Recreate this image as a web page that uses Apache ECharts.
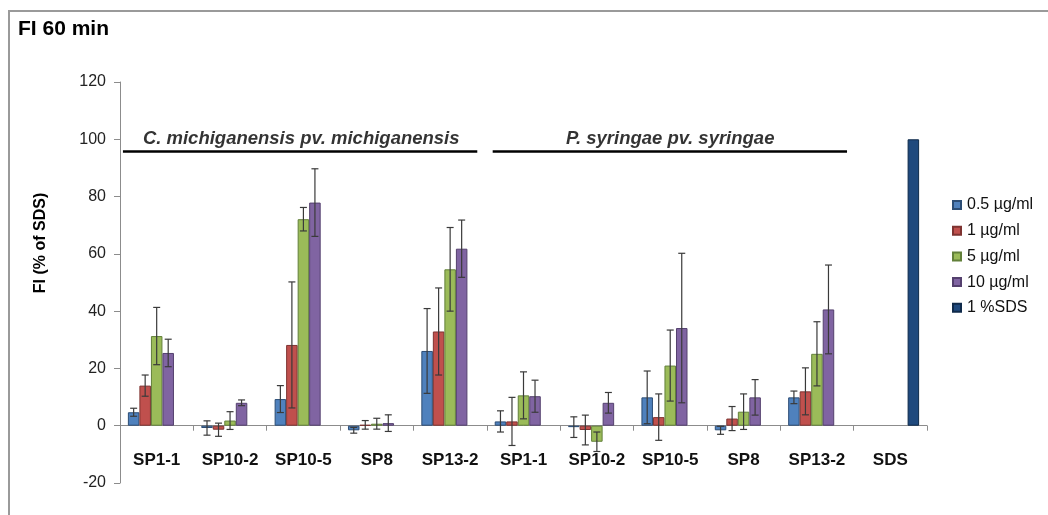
<!DOCTYPE html>
<html>
<head>
<meta charset="utf-8">
<script src="https://cdn.jsdelivr.net/npm/echarts@6/dist/echarts.min.js"></script>
<style>html,body{margin:0;padding:0;background:#fff;}#c{width:1048px;height:515px;}</style>
</head>
<body>
<div id="c"></div>
<script>
// ---- data ----
const categories = ['SP1-1','SP10-2','SP10-5','SP8','SP13-2','SP1-1','SP10-2','SP10-5','SP8','SP13-2','SDS'];
const seriesNames = ['0.5 µg/ml','1 µg/ml','5 µg/ml','10 µg/ml','1 %SDS'];
const v05  = [4.7, -0.8, 9.3, -1.6, 26.1, 1.5, -0.5, 9.9, -1.6, 9.9, null];
const e05  = [1.4, 2.5, 4.7, 1.0, 14.8, 3.7, 3.6, 9.2, 1.4, 2.2, null];
const v1   = [14.0, -1.4, 28.2, 0.3, 32.9, 1.5, -1.5, 3.0, 2.5, 12.0, null];
const e1   = [3.7, 2.3, 22.0, 1.5, 15.2, 8.4, 5.2, 8.1, 4.2, 8.2, null];
const v5   = [31.3, 1.8, 72.1, 0.7, 54.6, 10.6, -5.6, 21.0, 4.9, 25.1, null];
const e5   = [10.0, 3.1, 4.1, 1.9, 14.6, 8.2, 3.4, 12.4, 6.2, 11.2, null];
const v10  = [25.4, 8.0, 77.9, 0.9, 61.8, 10.3, 8.0, 34.1, 9.9, 40.6, null];
const e10  = [4.8, 1.0, 11.8, 2.9, 10.0, 5.6, 3.6, 26.1, 6.2, 15.5, null];
const vSDS = [null, null, null, null, null, null, null, null, null, null, 100];
const groupLabels = ['C. michiganensis pv. michiganensis', 'P. syringae pv. syringae'];
const groupLabelPos = [[2.47, 100.2], [7.5, 100.2]];
const groupLines = [[[0.04, 95.7], [4.87, 95.7]], [[5.08, 95.7], [9.91, 95.7]]];
const yMin = -20, yMax = 120, yStep = 20;

// ---- styles ----
const fills   = ['#4F81BD', '#C0504D', '#9BBB59', '#8064A2', '#1F497D'];
const borders = ['#2C4D75', '#7E3331', '#62803A', '#54406E', '#0F2A4A'];
const FONT = 'Liberation Sans, Arial, sans-serif';
const BAR_FRAC = 0.157;

const values = [v05, v1, v5, v10, vSDS];
const errs = [e05, e1, e5, e10, null];

const series = [];
values.forEach((arr, k) => {
  series.push({
    name: seriesNames[k],
    type: 'bar',
    xAxisIndex: 0,
    data: arr.map(v => v === null ? '-' : v),
    barWidth: (BAR_FRAC * 100) + '%',
    barGap: '0%',
    itemStyle: { color: fills[k], borderColor: borders[k], borderWidth: 1 },
    emphasis: { disabled: true },
    z: 2
  });
});

const errData = [];
errs.forEach((arr, k) => {
  if (!arr) return;
  arr.forEach((e, i) => {
    if (e !== null && values[k][i] !== null) errData.push([i, values[k][i], e, k]);
  });
});

series.push({
  name: 'errors',
  type: 'custom',
  xAxisIndex: 0,
  data: errData,
  encode: { x: 0, y: 1 },
  z: 5,
  silent: true,
  renderItem: function (params, api) {
    const i = api.value(0), v = api.value(1), e = api.value(2), k = api.value(3);
    const band = api.size([1, 0])[0];
    const bw = band * BAR_FRAC;
    const cx = api.coord([i, v])[0] + (k - 2) * bw;
    const yt = api.coord([i, v + e])[1];
    const yb = api.coord([i, v - e])[1];
    const cap = 3.5;
    const st = { stroke: '#3a3a3a', lineWidth: 1.2 };
    return {
      type: 'group',
      children: [
        { type: 'line', shape: { x1: cx, y1: yt, x2: cx, y2: yb }, style: st },
        { type: 'line', shape: { x1: cx - cap, y1: yt, x2: cx + cap, y2: yt }, style: st },
        { type: 'line', shape: { x1: cx - cap, y1: yb, x2: cx + cap, y2: yb }, style: st }
      ]
    };
  }
});

groupLines.forEach((ln, j) => {
  series.push({
    name: 'bracket' + j,
    type: 'line',
    xAxisIndex: 1,
    data: ln,
    symbol: 'none',
    lineStyle: { color: '#000', width: 2.5 },
    silent: true,
    z: 4
  });
});

series.push({
  name: 'groupLabels',
  type: 'scatter',
  xAxisIndex: 1,
  symbolSize: 0,
  silent: true,
  data: groupLabelPos.map((p, j) => ({ value: p, label: { formatter: groupLabels[j] } })),
  label: {
    show: true, position: 'inside',
    fontFamily: FONT, fontSize: 18.5, fontWeight: 'bold', fontStyle: 'italic', color: '#000'
  },
  z: 6
});

const chart = echarts.init(document.getElementById('c'), null, { renderer: 'canvas' });
chart.setOption({
  animation: false,
  backgroundColor: '#fff',
  title: {
    text: 'FI 60 min', left: 13, top: 14,
    textStyle: { fontFamily: FONT, fontSize: 21, fontWeight: 'bold', color: '#000' }
  },
  graphic: [
    { type: 'rect', shape: { x: 9, y: 11, width: 1200, height: 700 }, style: { fill: 'none', stroke: '#9a9a9a', lineWidth: 2 }, z: -1 },
    { type: 'text', x: 41, y: 243, rotation: Math.PI / 2, style: { text: 'FI (% of SDS)', fontFamily: FONT, fontSize: 16, fontWeight: 'bold', fill: '#000', align: 'center', verticalAlign: 'middle' } }
  ],
  legend: {
    data: seriesNames,
    orient: 'vertical',
    left: 947, top: 192,
    itemWidth: 8, itemHeight: 8, itemGap: 9.7,
    icon: 'rect',
    textStyle: { fontFamily: FONT, fontSize: 16, color: '#111', lineHeight: 16, padding: [0, 0, 0, 1] },
    selectedMode: false
  },
  grid: { left: 120, right: 121, top: 82, bottom: 32, containLabel: false, outerBoundsMode: 'none' },
  xAxis: [
    {
      type: 'category', data: categories,
      axisLine: { onZero: true, lineStyle: { color: '#8c8c8c', width: 1 } },
      axisTick: { show: true, length: 5, lineStyle: { color: '#8c8c8c' } },
      axisLabel: { interval: 0, margin: -31, fontFamily: FONT, fontSize: 17, fontWeight: 'bold', color: '#111' },
      splitLine: { show: false }
    },
    { type: 'value', min: 0, max: 11, show: false }
  ],
  yAxis: {
    type: 'value', min: yMin, max: yMax, interval: yStep,
    axisLine: { show: true, lineStyle: { color: '#8c8c8c', width: 1 } },
    axisTick: { show: true, length: 6, lineStyle: { color: '#8c8c8c' } },
    axisLabel: { margin: 14, fontFamily: FONT, fontSize: 16, color: '#222' },
    splitLine: { show: false }
  },
  series: series
});
</script>
</body>
</html>
